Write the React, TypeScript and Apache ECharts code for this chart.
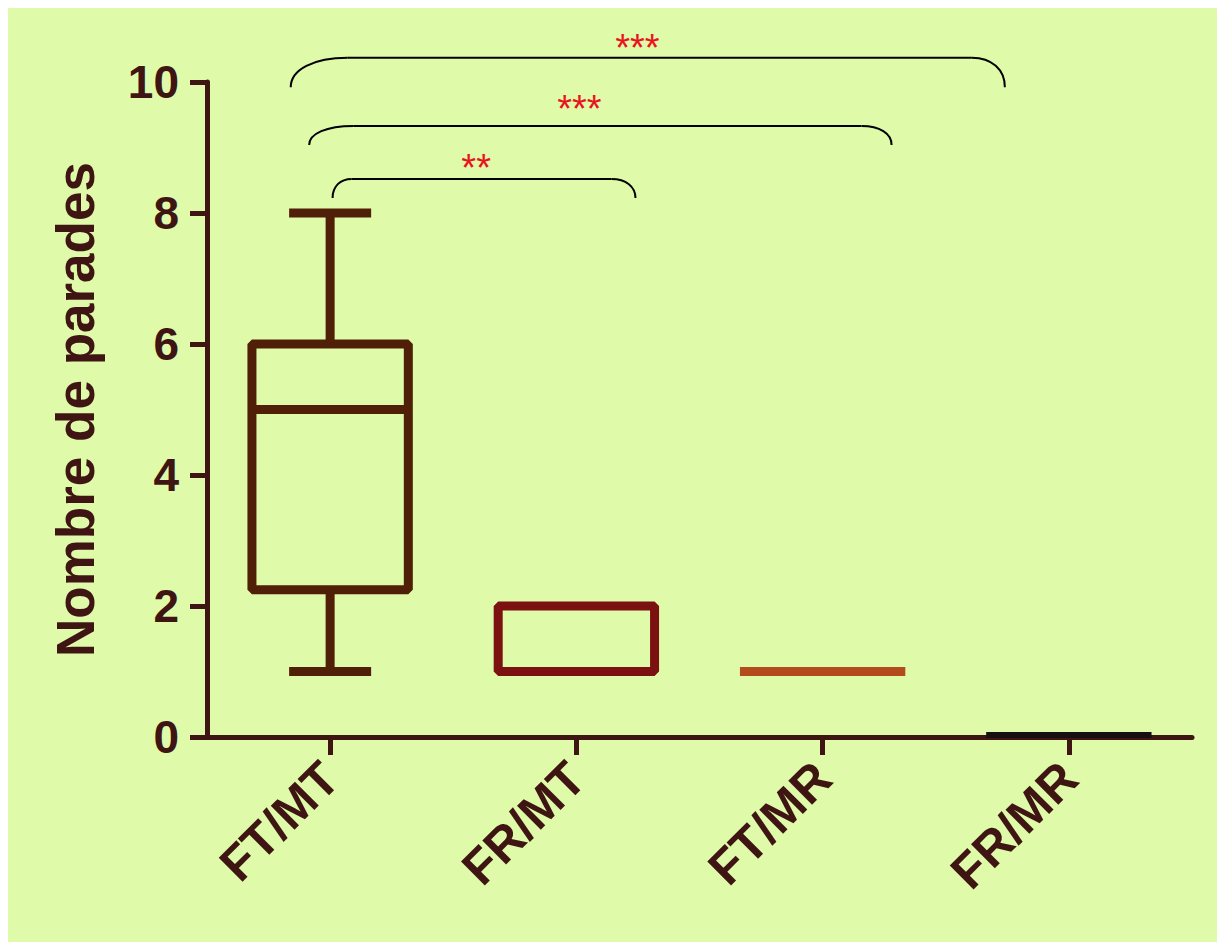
import React, { useEffect, useRef } from 'react';
import * as echarts from 'echarts';

// ---- data ----
const categories = ['FT/MT', 'FR/MT', 'FT/MR', 'FR/MR'];
// [min, Q1, median, Q3, max]
const boxFTMT = [1, 2.25, 5, 6, 8];
const boxFRMT = [1, 1, 1, 2, 2];
const boxFTMR = [1, 1, 1, 1, 1];
const boxFRMR = [0, 0, 0, 0, 0];
const boxValues = [boxFTMT, boxFRMT, boxFTMR, boxFRMR];
const yMin = 0;
const yMax = 10;
const yStep = 2;

// significance brackets (category units / value units)
const sigLabels = ['***', '***', '**'];
const sigFrom = [-0.16, -0.085, 0.01];
const sigTo = [2.74, 2.28, 1.24];
const sigTop = [10.37, 9.33, 8.52];
const sigEnd = [9.92, 9.04, 8.23];
const sigLabelX = [1.248, 1.012, 0.593];
const sigLabelY = [10.64, 9.71, 8.81];

// ---- styles ----
const boxColors = ['#4f1f07', '#7b1111', '#b44b1c', '#161010'];
const axisColor = '#3e1513';
const bgColor = '#dffaa9';
const fontFamily = "'Liberation Sans', Arial, sans-serif";
const leftCorner = [57, 44, 19];
const rightCorner = [33, 30, 24];

export default function App() {
  const ref = useRef<HTMLDivElement>(null);

  useEffect(() => {
    document.body.style.margin = '0';
    const chart = echarts.init(ref.current!, null, { renderer: 'svg' });

    const renderItem = (params: any, api: any) => {
      const i = api.value(0);
      const mn = api.value(1);
      const q1 = api.value(2);
      const md = api.value(3);
      const q3 = api.value(4);
      const mx = api.value(5);
      const cx = api.coord([i, md])[0];
      const y = (v: number) => api.coord([i, v])[1];
      const band = api.size([1, 0])[0];
      const boxW = band * 0.635;
      const capW = band * 0.333;
      const color = boxColors[i];
      const lw = 9;
      const ls = { stroke: color, lineWidth: lw, fill: 'none', lineCap: 'butt' };
      const children: any[] = [];
      if (q3 > q1) {
        children.push({
          type: 'rect',
          shape: { x: cx - boxW / 2, y: y(q3), width: boxW, height: y(q1) - y(q3) },
          style: { ...ls, lineJoin: 'bevel' },
        });
        children.push({
          type: 'line',
          shape: { x1: cx - boxW / 2, y1: y(md), x2: cx + boxW / 2, y2: y(md) },
          style: ls,
        });
        if (mx > q3) {
          children.push({ type: 'line', shape: { x1: cx, y1: y(q3), x2: cx, y2: y(mx) }, style: ls });
          children.push({ type: 'line', shape: { x1: cx - capW / 2, y1: y(mx), x2: cx + capW / 2, y2: y(mx) }, style: ls });
        }
        if (mn < q1) {
          children.push({ type: 'line', shape: { x1: cx, y1: y(q1), x2: cx, y2: y(mn) }, style: ls });
          children.push({ type: 'line', shape: { x1: cx - capW / 2, y1: y(mn), x2: cx + capW / 2, y2: y(mn) }, style: ls });
        }
      } else {
        const w = q1 === 0 ? 6 : lw;
        children.push({
          type: 'line',
          shape: { x1: cx - (boxW + lw) / 2, y1: y(q1) - (q1 === 0 ? 2 : 0), x2: cx + (boxW + lw) / 2, y2: y(q1) - (q1 === 0 ? 2 : 0) },
          style: { ...ls, lineWidth: w },
        });
      }
      return { type: 'group', children };
    };

    chart.setOption({
      animation: false,
      backgroundColor: bgColor,
      grid: { left: 199, top: 74, right: 25, bottom: 205 },
      xAxis: {
        type: 'category',
        data: categories,
        boundaryGap: true,
        axisLine: { show: true, lineStyle: { color: axisColor, width: 5 } },
        axisTick: { show: true, alignWithLabel: true, length: 18, lineStyle: { color: axisColor, width: 5 } },
        axisLabel: {
          rotate: 45,
          margin: 33,
          color: axisColor,
          fontSize: 49,
          fontWeight: 'bold',
          fontFamily,
        },
        splitLine: { show: false },
      },
      yAxis: {
        type: 'value',
        min: yMin,
        max: yMax,
        interval: yStep,
        name: 'Nombre de parades',
        nameLocation: 'middle',
        nameGap: 105,
        nameTextStyle: { color: axisColor, fontSize: 53, fontWeight: 'bold', fontFamily },
        axisLine: { show: true, lineStyle: { color: axisColor, width: 5 } },
        axisTick: { show: true, length: 17, lineStyle: { color: axisColor, width: 5 } },
        axisLabel: { margin: 28, color: axisColor, fontSize: 46, fontWeight: 'bold', fontFamily },
        splitLine: { show: false },
      },
      series: [
        {
          type: 'custom',
          renderItem,
          data: boxValues.map((v, i) => [i, ...v]),
          encode: { x: 0, y: [1, 2, 3, 4, 5] },
          z: 10,
          clip: false,
        },
      ],
    });

    const p0 = chart.convertToPixel({ xAxisIndex: 0, yAxisIndex: 0 }, [0, 0]) as number[];
    const p1 = chart.convertToPixel({ xAxisIndex: 0, yAxisIndex: 0 }, [1, 0]) as number[];
    const px = (c: number) => p0[0] + c * (p1[0] - p0[0]);
    const py = (v: number) => chart.convertToPixel({ yAxisIndex: 0 }, v) as number;

    const graphics: any[] = [];
    const lineStyle = { stroke: '#000', lineWidth: 2, fill: 'none' };
    const starSize = 38;
    sigLabels.forEach((lab, k) => {
      const xL = px(sigFrom[k]);
      const xR = px(sigTo[k]);
      const yT = py(sigTop[k]);
      const yE = py(sigEnd[k]);
      const wl = leftCorner[k];
      const wr = rightCorner[k];
      const h = yE - yT;
      graphics.push({
        type: 'bezierCurve',
        shape: { x1: xL, y1: yE, cpx1: xL, cpy1: yE - 0.6 * h, cpx2: xL + wl * 0.4, cpy2: yT, x2: xL + wl, y2: yT },
        style: lineStyle,
      });
      graphics.push({
        type: 'line',
        shape: { x1: xL + wl, y1: yT, x2: xR - wr, y2: yT },
        style: lineStyle,
      });
      graphics.push({
        type: 'bezierCurve',
        shape: { x1: xR - wr, y1: yT, cpx1: xR - wr * 0.4, cpy1: yT, cpx2: xR, cpy2: yE - 0.6 * h, x2: xR, y2: yE },
        style: lineStyle,
      });
      graphics.push({
        type: 'text',
        x: px(sigLabelX[k]),
        y: py(sigLabelY[k]) + starSize * 0.21,
        style: {
          text: lab,
          fill: '#e8141e',
          font: `${starSize}px ${fontFamily}`,
          align: 'center',
          verticalAlign: 'middle',
          textAlign: 'center',
          textVerticalAlign: 'middle',
        },
      });
    });
    chart.setOption({ graphic: graphics });

    return () => chart.dispose();
  }, []);

  return (
    <div style={{ width: 1217, height: 942, background: '#fff', position: 'relative', overflow: 'hidden' }}>
      <div ref={ref} style={{ position: 'absolute', left: 8, top: 8, width: 1209, height: 934 }} />
    </div>
  );
}
